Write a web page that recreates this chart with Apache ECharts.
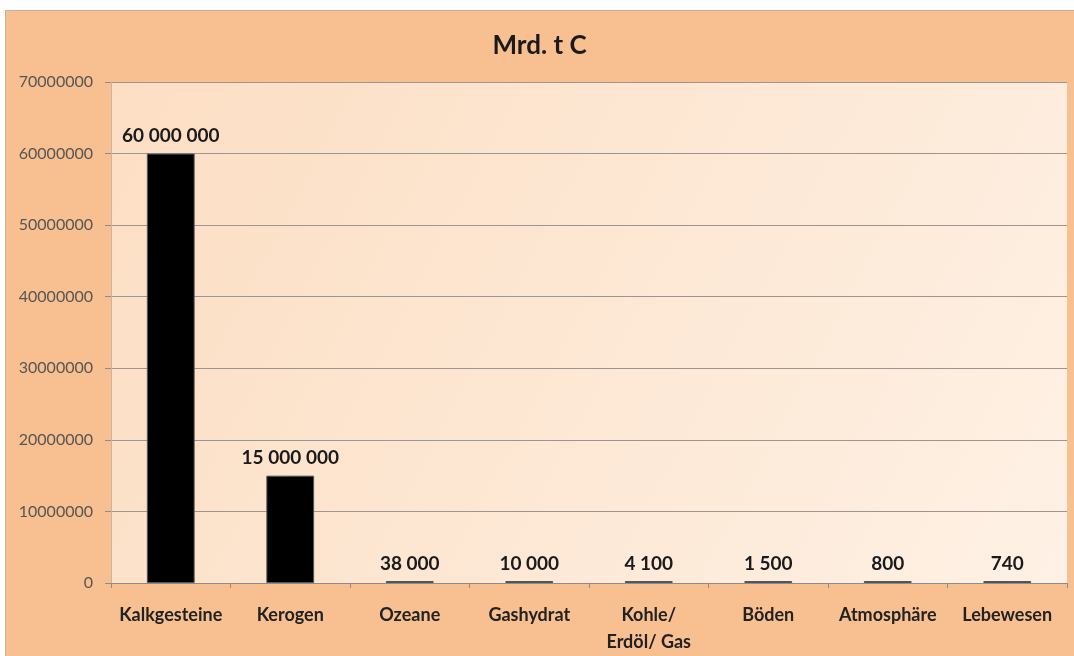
<!DOCTYPE html>
<html>
<head>
<meta charset="utf-8">
<script src="https://cdn.jsdelivr.net/npm/echarts@6/dist/echarts.min.js"></script>
<style>
html,body{margin:0;padding:0;background:#fff;width:1074px;height:656px;overflow:hidden;}
#c{position:absolute;left:5px;top:10px;width:1069px;height:646px;background:#F8C090;box-shadow:inset 1px 1px 0 #c8b09a;}
</style>
</head>
<body>
<div id="c"></div>
<script>
const titleText = 'Mrd. t C';
const categories = ['Kalkgesteine', 'Kerogen', 'Ozeane', 'Gashydrat', 'Kohle/\nErdöl/ Gas', 'Böden', 'Atmosphäre', 'Lebewesen'];
const values = [60000000, 15000000, 38000, 10000, 4100, 1500, 800, 740];
const yMin = 0, yMax = 70000000, yInterval = 10000000;

function fmt(v) {
  return String(v).replace(/\B(?=(\d{3})+(?!\d))/g, ' ');
}

const chart = echarts.init(document.getElementById('c'));
chart.setOption({
  animation: false,
  textStyle: { fontFamily: 'Lato, "Open Sans", sans-serif' },
  title: {
    text: titleText,
    left: 'center',
    top: 18,
    textStyle: { fontSize: 26, fontWeight: 'bold', color: '#1a1a1a', fontFamily: 'Lato, sans-serif' }
  },
  grid: {
    left: 106, right: 7, top: 72, bottom: 73,
    show: true,
    borderWidth: 0,
    backgroundColor: new echarts.graphic.LinearGradient(0, 0, 1, 1, [
      { offset: 0, color: '#FCDEC3' },
      { offset: 1, color: '#FEF1E5' }
    ])
  },
  xAxis: {
    type: 'category',
    data: categories,
    axisLine: { lineStyle: { color: '#8c8c8c', width: 1 } },
    axisTick: { show: true, length: 5, lineStyle: { color: '#8c8c8c' } },
    axisLabel: { color: '#222', fontWeight: 'bold', fontSize: 18, margin: 19, lineHeight: 27, interval: 0 }
  },
  yAxis: {
    type: 'value',
    min: yMin, max: yMax, interval: yInterval,
    axisLine: { show: true, lineStyle: { color: '#c8b4a0', width: 1 } },
    axisTick: { show: true, length: 6, lineStyle: { color: '#8c8c8c' } },
    axisLabel: { color: '#555', fontSize: 16, margin: 18, formatter: v => String(v) },
    splitLine: { lineStyle: { color: '#9c9590', width: 1 } }
  },
  series: [{
    type: 'bar',
    data: values,
    barWidth: '40%',
    barMinHeight: 2,
    itemStyle: { color: '#000', borderColor: '#555', borderWidth: 1 },
    label: {
      show: true,
      position: 'top',
      distance: 8,
      color: '#1a1a1a',
      fontWeight: 'bold',
      fontSize: 19,
      formatter: p => fmt(p.value)
    }
  }]
});
</script>
</body>
</html>
